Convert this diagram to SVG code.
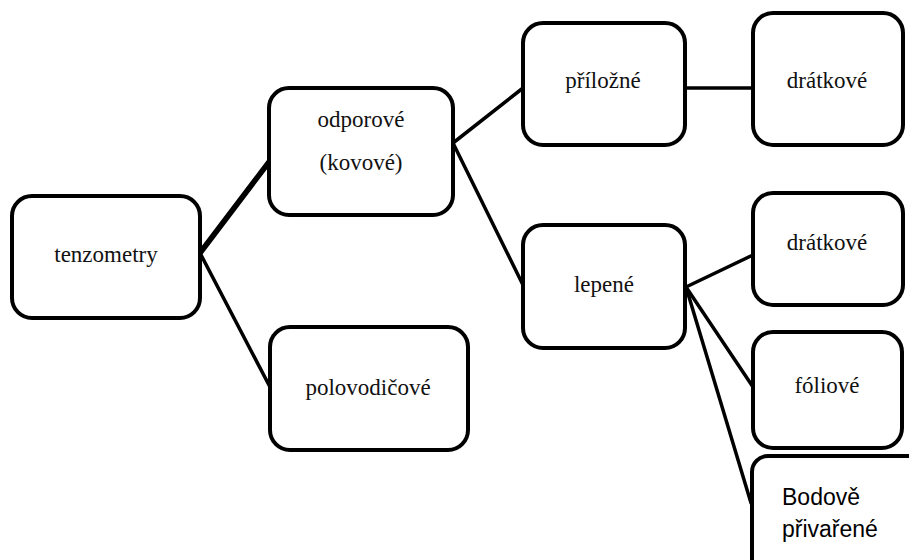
<svg xmlns="http://www.w3.org/2000/svg" width="909" height="560" viewBox="0 0 909 560">
<style>
.box{fill:#fff;stroke:#000;stroke-width:4}
.lbl{font-family:"Liberation Serif","Times New Roman",serif;font-size:23px;fill:#111;text-anchor:middle}
.sans{font-family:"Liberation Sans",Arial,sans-serif;font-size:23px;fill:#000}
.ln{stroke:#000;stroke-width:3.5;fill:none;stroke-linecap:round}
</style>
<rect width="909" height="560" fill="#fff"/>
<g id="connectors">
<line class="ln" x1="200" y1="253" x2="269" y2="162" style="stroke-width:5.5"/>
<line class="ln" x1="200" y1="253" x2="270" y2="387"/>
<line class="ln" x1="453" y1="143" x2="523" y2="88"/>
<line class="ln" x1="453" y1="143" x2="523" y2="285"/>
<line class="ln" x1="685" y1="88" x2="753" y2="88"/>
<line class="ln" x1="686" y1="287" x2="753" y2="255"/>
<line class="ln" x1="686" y1="287" x2="753" y2="387"/>
<line class="ln" x1="686" y1="287" x2="751" y2="503"/>
</g>
<g id="tenzometry">
<rect class="box" x="12" y="196" width="188" height="122" rx="20"/>
<text class="lbl" x="106" y="262">tenzometry</text>
</g>
<g id="odporove">
<rect class="box" x="269" y="88" width="184" height="127" rx="20"/>
<text class="lbl" x="361" y="127">odporové</text>
<text class="lbl" x="361" y="170">(kovové)</text>
</g>
<g id="polovodicove">
<rect class="box" x="270" y="327" width="198" height="123" rx="20"/>
<text class="lbl" x="368" y="395">polovodičové</text>
</g>
<g id="prilozne">
<rect class="box" x="523" y="23" width="162" height="122" rx="20"/>
<text class="lbl" x="603" y="88">příložné</text>
</g>
<g id="dratkove1">
<rect class="box" x="753" y="13" width="150" height="132" rx="20"/>
<text class="lbl" x="827" y="88">drátkové</text>
</g>
<g id="lepene">
<rect class="box" x="523" y="225" width="162" height="123" rx="20"/>
<text class="lbl" x="604" y="292">lepené</text>
</g>
<g id="dratkove2">
<rect class="box" x="753" y="193" width="150" height="112" rx="20"/>
<text class="lbl" x="827" y="250">drátkové</text>
</g>
<g id="foliove">
<rect class="box" x="753" y="332" width="149" height="116" rx="20"/>
<text class="lbl" x="827" y="393">fóliové</text>
</g>
<g id="bodove">
<rect x="752" y="456" width="200" height="140" rx="16" fill="#fff" stroke="#000" stroke-width="4"/>
<text class="sans" x="782" y="505">Bodově</text>
<text class="sans" x="782" y="537">přivařené</text>
</g>
</svg>
